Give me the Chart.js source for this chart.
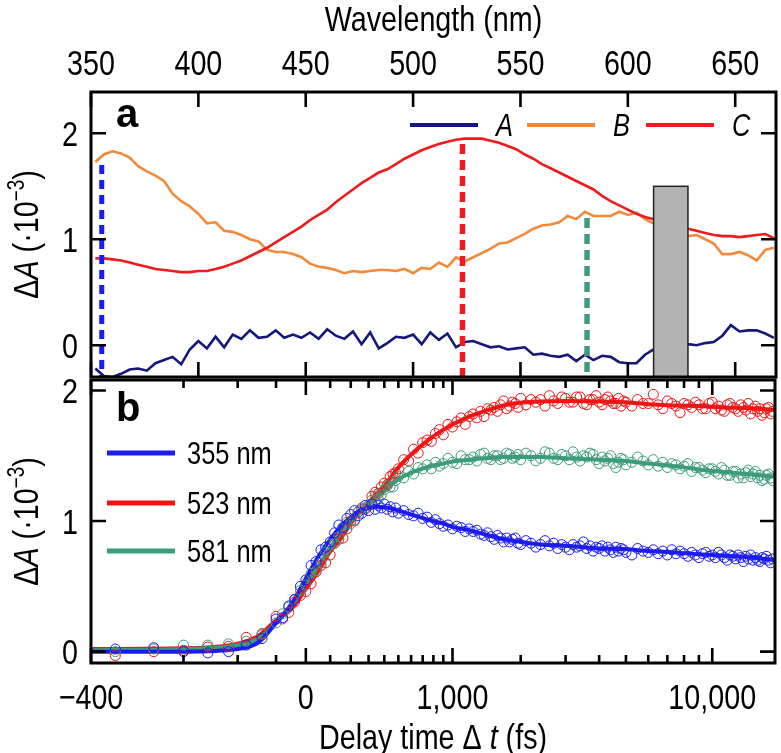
<!DOCTYPE html>
<html>
<head>
<meta charset="utf-8">
<script src="https://cdn.jsdelivr.net/npm/chart.js@4"></script>
<style>
  body { margin: 0; background: #fff; }
  #wrap { position: relative; width: 781px; height: 753px; }
  canvas { position: absolute; left: 0; }
  #panelA { top: 0; }
  #panelB { top: 370px; }
</style>
</head>
<body>
<div id="wrap">
  <canvas id="panelA" width="781" height="380"></canvas>
  <canvas id="panelB" width="781" height="383"></canvas>
</div>
<script>
// ---- panel a: transient spectra ----
const wavelength = [352, 356, 360, 364, 368, 372, 376, 380, 384, 388,
  392, 396, 400, 404, 408, 412, 416, 420, 424, 428,
  432, 436, 440, 444, 448, 452, 456, 460, 464, 468,
  472, 476, 480, 484, 488, 492, 496, 500, 504, 508,
  512, 516, 520, 524, 528, 532, 536, 540, 544, 548,
  552, 556, 560, 564, 568, 572, 576, 580, 584, 588,
  592, 596, 600, 604, 608, 612, 616, 620, 624, 628,
  632, 636, 640, 644, 648, 652, 656, 660, 664, 668];
const specA = [-0.22, -0.29, -0.30, -0.27, -0.23, -0.22, -0.24, -0.17, -0.14, -0.11,
  -0.18, -0.04, 0.04, -0.03, 0.08, -0.02, 0.10, 0.06, 0.14, 0.07,
  0.08, 0.14, 0.07, 0.10, 0.07, 0.12, 0.06, 0.15, 0.09, 0.06,
  0.13, 0.01, 0.12, -0.03, 0.02, 0.08, 0.07, 0.10, 0.01, 0.12,
  0.05, 0.11, -0.02, 0.03, 0.04, 0.01, -0.02, -0.01, -0.04, -0.03,
  -0.02, -0.09, -0.08, -0.10, -0.11, -0.09, -0.15, -0.09, -0.14, -0.10,
  -0.11, -0.16, -0.17, -0.17, -0.09, -0.04, 0.00, 0.01, 0.00, 0.01,
  0.00, 0.02, 0.03, 0.09, 0.19, 0.13, 0.14, 0.14, 0.11, 0.07];
const specB = [1.73, 1.80, 1.83, 1.81, 1.77, 1.69, 1.64, 1.60, 1.55, 1.43,
  1.36, 1.31, 1.24, 1.15, 1.16, 1.08, 1.07, 1.04, 1.00, 0.98,
  0.90, 0.88, 0.88, 0.86, 0.83, 0.77, 0.74, 0.73, 0.71, 0.68,
  0.70, 0.69, 0.70, 0.71, 0.71, 0.70, 0.72, 0.68, 0.73, 0.72,
  0.78, 0.74, 0.83, 0.79, 0.83, 0.87, 0.91, 0.96, 0.97, 1.01,
  1.05, 1.10, 1.13, 1.14, 1.16, 1.22, 1.19, 1.26, 1.22, 1.22,
  1.22, 1.26, 1.23, 1.25, 1.19, 1.15, 1.10, 1.08, 1.05, 1.03,
  1.04, 1.00, 0.96, 0.86, 0.86, 0.88, 0.85, 0.80, 0.90, 0.92];
const specC = [0.82, 0.82, 0.81, 0.80, 0.78, 0.76, 0.74, 0.72, 0.71, 0.70,
  0.69, 0.69, 0.70, 0.70, 0.72, 0.74, 0.77, 0.80, 0.84, 0.88,
  0.92, 0.97, 1.02, 1.07, 1.12, 1.18, 1.23, 1.28, 1.35, 1.41,
  1.47, 1.53, 1.58, 1.63, 1.66, 1.71, 1.76, 1.80, 1.84, 1.87,
  1.90, 1.92, 1.94, 1.95, 1.95, 1.95, 1.93, 1.91, 1.88, 1.85,
  1.80, 1.76, 1.71, 1.67, 1.63, 1.59, 1.55, 1.51, 1.47, 1.41,
  1.36, 1.32, 1.28, 1.24, 1.21, 1.19, 1.16, 1.13, 1.11, 1.10,
  1.08, 1.06, 1.04, 1.03, 1.03, 1.02, 1.03, 1.04, 1.05, 1.01];
const probeWavelengths = [355, 523, 581];
const probeTops = [1.70, 1.90, 1.20];
const pumpBand = [612, 628];
const pumpBandTop = 1.5;
const wlTicks = [350, 400, 450, 500, 550, 600, 650];
const dATicksA = [0, 1, 2];

// ---- panel b: kinetics ----
const delay = [-380, -340, -300, -260, -220, -180, -140, -100, -80, -60,
  -40, -20, 0, 20, 40, 60, 80, 100, 120, 140,
  160, 180, 200, 220, 240, 260, 280, 300, 320, 340,
  360, 380, 400, 420, 440, 460, 480, 500, 540, 580,
  620, 660, 700, 740, 780, 820, 860, 900, 950, 1000,
  1050, 1100, 1150, 1200, 1250, 1300, 1350, 1400, 1450, 1500,
  1550, 1600, 1650, 1700, 1750, 1800, 1850, 1900, 1950, 2000,
  2100, 2200, 2300, 2400, 2500, 2600, 2700, 2800, 2900, 3000,
  3100, 3200, 3300, 3400, 3500, 3600, 3700, 3800, 3900, 4000,
  4100, 4200, 4300, 4400, 4500, 4600, 4700, 4800, 4900, 5000,
  5250, 5500, 5750, 6000, 6250, 6500, 6750, 7000, 7250, 7500,
  7750, 8000, 8250, 8500, 8750, 9000, 9250, 9500, 9750, 10000,
  10250, 10500, 10750, 11000, 11250, 11500, 11750, 12000, 12250, 12500,
  12750, 13000, 13250, 13500, 13750, 14000, 14250, 14500, 14750, 15000,
  15250, 15500, 15750, 16000];
const kin355 = [0.02, 0.03, 0.00, -0.01, 0.00, 0.05, 0.10, 0.25, 0.26, 0.35,
  0.40, 0.50, 0.55, 0.66, 0.69, 0.78, 0.80, 0.84, 0.91, 0.97,
  0.95, 1.02, 1.05, 1.08, 1.04, 1.06, 1.12, 1.08, 1.13, 1.09,
  1.12, 1.10, 1.13, 1.09, 1.11, 1.07, 1.10, 1.06, 1.08, 1.05,
  1.04, 1.06, 1.02, 1.03, 0.99, 1.01, 0.98, 0.96, 0.97, 0.94,
  0.96, 0.95, 0.92, 0.94, 0.92, 0.93, 0.90, 0.89, 0.91, 0.88,
  0.86, 0.89, 0.87, 0.84, 0.87, 0.84, 0.86, 0.87, 0.83, 0.82,
  0.85, 0.83, 0.80, 0.82, 0.85, 0.81, 0.83, 0.79, 0.82, 0.80,
  0.78, 0.82, 0.80, 0.81, 0.84, 0.79, 0.81, 0.77, 0.80, 0.79,
  0.81, 0.77, 0.80, 0.78, 0.76, 0.80, 0.77, 0.79, 0.78, 0.76,
  0.74, 0.79, 0.77, 0.76, 0.78, 0.75, 0.77, 0.74, 0.78, 0.75,
  0.77, 0.75, 0.73, 0.76, 0.74, 0.72, 0.75, 0.76, 0.73, 0.74,
  0.72, 0.76, 0.74, 0.72, 0.70, 0.74, 0.73, 0.71, 0.74, 0.72,
  0.69, 0.73, 0.71, 0.74, 0.70, 0.72, 0.70, 0.69, 0.72, 0.71,
  0.73, 0.70, 0.68, 0.71];
const kin523 = [-0.03, 0.00, 0.01, 0.035, 0.04, 0.11, 0.13, 0.27, 0.25, 0.30,
  0.38, 0.43, 0.46, 0.52, 0.61, 0.66, 0.68, 0.74, 0.83, 0.86,
  0.87, 0.94, 1.00, 1.00, 1.07, 1.10, 1.09, 1.12, 1.19, 1.22,
  1.21, 1.26, 1.29, 1.28, 1.34, 1.36, 1.37, 1.40, 1.47, 1.46,
  1.55, 1.52, 1.60, 1.62, 1.61, 1.67, 1.70, 1.66, 1.74, 1.72,
  1.76, 1.79, 1.74, 1.80, 1.82, 1.79, 1.84, 1.80, 1.86, 1.85,
  1.87, 1.84, 1.89, 1.92, 1.86, 1.88, 1.91, 1.90, 1.87, 1.94,
  1.89, 1.93, 1.91, 1.93, 1.88, 1.96, 1.92, 1.90, 1.95, 1.94,
  1.91, 1.91, 1.95, 1.95, 1.90, 1.89, 1.93, 1.93, 1.96, 1.91,
  1.89, 1.93, 1.95, 1.92, 1.90, 1.90, 1.94, 1.88, 1.92, 1.91,
  1.88, 1.93, 1.90, 1.90, 1.97, 1.89, 1.86, 1.92, 1.90, 1.88,
  1.83, 1.90, 1.89, 1.87, 1.91, 1.89, 1.86, 1.86, 1.90, 1.91,
  1.86, 1.88, 1.85, 1.84, 1.89, 1.90, 1.87, 1.86, 1.84, 1.89,
  1.87, 1.85, 1.90, 1.82, 1.86, 1.88, 1.84, 1.86, 1.81, 1.83,
  1.86, 1.87, 1.82, 1.84];
const kin581 = [0.00, 0.02, 0.05, 0.05, 0.06, 0.08, 0.14, 0.22, 0.29, 0.34,
  0.40, 0.47, 0.51, 0.60, 0.62, 0.68, 0.76, 0.82, 0.83, 0.88,
  0.95, 0.99, 0.98, 1.01, 1.07, 1.09, 1.10, 1.12, 1.16, 1.19,
  1.17, 1.20, 1.24, 1.27, 1.26, 1.26, 1.31, 1.34, 1.33, 1.38,
  1.36, 1.41, 1.40, 1.43, 1.40, 1.45, 1.42, 1.44, 1.48, 1.45,
  1.44, 1.50, 1.47, 1.47, 1.49, 1.46, 1.51, 1.52, 1.48, 1.47,
  1.50, 1.50, 1.47, 1.48, 1.52, 1.51, 1.48, 1.49, 1.51, 1.47,
  1.52, 1.50, 1.46, 1.48, 1.53, 1.52, 1.48, 1.47, 1.51, 1.50,
  1.47, 1.53, 1.49, 1.46, 1.50, 1.49, 1.52, 1.51, 1.47, 1.44,
  1.49, 1.46, 1.48, 1.50, 1.44, 1.41, 1.45, 1.48, 1.47, 1.43,
  1.45, 1.49, 1.46, 1.43, 1.47, 1.42, 1.45, 1.41, 1.44, 1.43,
  1.40, 1.42, 1.44, 1.38, 1.41, 1.41, 1.39, 1.37, 1.40, 1.40,
  1.38, 1.36, 1.41, 1.39, 1.35, 1.35, 1.38, 1.38, 1.33, 1.36,
  1.33, 1.37, 1.39, 1.34, 1.36, 1.38, 1.33, 1.35, 1.31, 1.32,
  1.35, 1.36, 1.33, 1.31];
const fitDelay = [-400, -300, -200, -150, -100, -50, 0, 50, 100, 150,
  200, 250, 300, 350, 400, 450, 500, 600, 750, 900,
  1000, 1200, 1400, 1700, 2000, 2400, 3000, 4000, 5000, 6000,
  7500, 9000, 11000, 13000, 16300];
const fit355 = [0.00, 0.00, 0.02, 0.07, 0.22, 0.37, 0.56, 0.73, 0.86, 0.96,
  1.03, 1.08, 1.10, 1.11, 1.105, 1.095, 1.08, 1.05, 1.01, 0.98,
  0.955, 0.93, 0.90, 0.86, 0.84, 0.82, 0.81, 0.79, 0.785, 0.77,
  0.76, 0.745, 0.735, 0.725, 0.70];
const fit523 = [0.02, 0.025, 0.06, 0.12, 0.24, 0.33, 0.48, 0.62, 0.765, 0.87,
  0.98, 1.07, 1.14, 1.21, 1.27, 1.34, 1.41, 1.51, 1.62, 1.70,
  1.74, 1.80, 1.84, 1.885, 1.905, 1.915, 1.92, 1.915, 1.91, 1.895,
  1.885, 1.88, 1.87, 1.865, 1.85];
const fit581 = [0.01, 0.02, 0.05, 0.10, 0.22, 0.36, 0.52, 0.66, 0.795, 0.91,
  1.00, 1.075, 1.13, 1.18, 1.23, 1.28, 1.32, 1.37, 1.415, 1.44,
  1.455, 1.47, 1.48, 1.49, 1.49, 1.49, 1.48, 1.47, 1.46, 1.44,
  1.42, 1.395, 1.375, 1.36, 1.34];
const delayTicks = [-400, -300, -200, -100, 0, 100, 200, 300, 400, 500, 600, 700, 800, 900,
  1000, 2000, 3000, 4000, 5000, 6000, 7000, 8000, 9000, 10000];
const delayMajor = [-400, 0, 1000, 10000];
const delayLabels = { '-400': '\u2212400', '0': '0', '1000': '1,000', '10000': '10,000' };
const dATicksB = [0, 1, 2];

const FONT = "'Liberation Sans', Arial, Helvetica, sans-serif";
const SQ = 0.82;   // horizontal squeeze, the figure uses a narrow Helvetica
const SZ = 35, SZ_LEG = 31, SZ_SUP = 23;
const TICK_FONT = SZ + 'px ' + FONT;

const NAVY = '#16167c', ORANGE = '#f28a3c', RED = '#ee1c1c';
const BLUE = '#1c1cf2', RED_B = '#f01414', GREEN = '#3c9c7a';

// delay axis: linear near zero, logarithmic at long delays (log of t + 500 fs)
const DELAY_SHIFT = 500;
class ShiftedLogScale extends Chart.Scale {
  determineDataLimits() {
    this.min = this.options.min;
    this.max = this.options.max;
  }
  buildTicks() {
    return delayTicks.map(v => ({ value: v, major: delayMajor.includes(v) }));
  }
  getLabelForValue(v) { return String(v); }
  configure() {
    super.configure();
    this._lo = Math.log10(this.min + DELAY_SHIFT);
    this._hi = Math.log10(this.max + DELAY_SHIFT);
  }
  getPixelForValue(v) {
    return this.getPixelForDecimal((Math.log10(v + DELAY_SHIFT) - this._lo) / (this._hi - this._lo));
  }
  getValueForPixel(p) {
    const d = this.getDecimalForPixel(p);
    return Math.pow(10, this._lo + d * (this._hi - this._lo)) - DELAY_SHIFT;
  }
}
ShiftedLogScale.id = 'shiftedLog';
ShiftedLogScale.defaults = {};
Chart.register(ShiftedLogScale);

function pts(xs, ys) { return xs.map((x, i) => ({ x: x, y: ys[i] })); }

function fixSize(prop, val) {
  return function (s) {
    s[prop] = val;
    s.paddingLeft = s.paddingRight = s.paddingTop = s.paddingBottom = 0;
  };
}

function squeezed(ctx, text, x, y, font, align) {
  ctx.save();
  ctx.font = font;
  ctx.textAlign = align;
  ctx.textBaseline = 'alphabetic';
  ctx.fillStyle = '#000';
  ctx.translate(x, y);
  ctx.scale(SQ, 1);
  ctx.fillText(text, 0, 0);
  ctx.restore();
}

// text made of pieces with different fonts, centred on x, baseline y
function richText(ctx, pieces, x, y, rot) {
  ctx.save();
  ctx.translate(x, y);
  if (rot) ctx.rotate(rot);
  ctx.scale(SQ, 1);
  ctx.textAlign = 'left';
  ctx.textBaseline = 'alphabetic';
  ctx.fillStyle = '#000';
  let w = 0;
  pieces.forEach(p => { ctx.font = p.font; w += ctx.measureText(p.text).width; });
  let cx = -w / 2;
  pieces.forEach(p => {
    ctx.font = p.font;
    ctx.fillText(p.text, cx, p.dy || 0);
    cx += ctx.measureText(p.text).width;
  });
  ctx.restore();
}

const yTitle = [
  { text: '\u0394', font: SZ + 'px ' + FONT },
  { text: 'A', font: 'italic ' + SZ + 'px ' + FONT },
  { text: ' (\u00b710', font: SZ + 'px ' + FONT },
  { text: '\u22123', font: SZ_SUP + 'px ' + FONT, dy: -14 },
  { text: ')', font: SZ + 'px ' + FONT }
];

// box, inward ticks on all four sides, tick labels
const frame = {
  id: 'frame',
  afterDraw(chart, args, opts) {
    const { ctx, chartArea: a } = chart;
    const xs = chart.scales.x, ys = chart.scales.y;
    ctx.save();
    ctx.strokeStyle = '#000';
    ctx.lineWidth = 2.6;
    ctx.beginPath();
    xs.ticks.forEach(t => {
      const px = xs.getPixelForValue(t.value);
      const len = opts.major && !opts.major.includes(t.value) ? 8 : 15;
      ctx.moveTo(px, a.top); ctx.lineTo(px, a.top + len);
      ctx.moveTo(px, a.bottom); ctx.lineTo(px, a.bottom - len);
    });
    ys.ticks.forEach(t => {
      const py = ys.getPixelForValue(t.value);
      ctx.moveTo(a.left, py); ctx.lineTo(a.left + 15, py);
      ctx.moveTo(a.right, py); ctx.lineTo(a.right - 15, py);
    });
    ctx.stroke();
    ctx.lineWidth = 3;
    ctx.strokeRect(a.left, a.top, a.right - a.left, a.bottom - a.top);
    ctx.restore();
    xs.ticks.forEach(t => {
      const lab = opts.xLabel(t.value);
      if (lab) squeezed(ctx, lab, xs.getPixelForValue(t.value), opts.xLabelBase, TICK_FONT, 'center');
    });
    ys.ticks.forEach(t => {
      squeezed(ctx, String(t.value), a.left - 13, ys.getPixelForValue(t.value) + 12.5, TICK_FONT, 'right');
    });
  }
};

const panelAExtras = {
  id: 'panelAExtras',
  afterDatasetsDraw(chart) {
    const { ctx, chartArea: a } = chart;
    const xs = chart.scales.x, ys = chart.scales.y;
    const x0 = xs.getPixelForValue(pumpBand[0]), x1 = xs.getPixelForValue(pumpBand[1]);
    const yt = ys.getPixelForValue(pumpBandTop);
    ctx.save();
    ctx.fillStyle = '#b3b3b3';
    ctx.fillRect(x0, yt, x1 - x0, a.bottom - yt);
    ctx.strokeStyle = '#222';
    ctx.lineWidth = 1.5;
    ctx.strokeRect(x0, yt, x1 - x0, a.bottom - yt);
    ctx.restore();
  },
  afterDraw(chart) {
    const { ctx, chartArea: a } = chart;
    ctx.save();
    ctx.fillStyle = '#000';
    ctx.font = 'bold 40px ' + FONT;
    ctx.textBaseline = 'alphabetic';
    ctx.fillText('a', 116, 127);
    // legend
    const items = [['A', NAVY, 410], ['B', ORANGE, 527], ['C', RED, 646]];
    ctx.lineWidth = 4;
    items.forEach(([lab, col, x]) => {
      ctx.strokeStyle = col;
      ctx.beginPath(); ctx.moveTo(x, 125); ctx.lineTo(x + 68, 125); ctx.stroke();
      squeezed(ctx, lab, x + 86, 136, 'italic ' + SZ_LEG + 'px ' + FONT, 'left');
    });
    ctx.restore();
    richText(ctx, [{ text: 'Wavelength (nm)', font: SZ + 'px ' + FONT }], (a.left + a.right) / 2, 31);
    richText(ctx, yTitle, 38, (a.top + a.bottom) / 2, -Math.PI / 2);
  }
};

const panelBExtras = {
  id: 'panelBExtras',
  afterDraw(chart) {
    const { ctx, chartArea: a } = chart;
    ctx.save();
    ctx.fillStyle = '#000';
    ctx.font = 'bold 40px ' + FONT;
    ctx.textBaseline = 'alphabetic';
    ctx.fillText('b', 116, 51);
    const items = [['355 nm', BLUE, 83], ['523 nm', RED_B, 133], ['581 nm', GREEN, 181]];
    ctx.lineWidth = 5;
    items.forEach(([lab, col, y]) => {
      ctx.strokeStyle = col;
      ctx.beginPath(); ctx.moveTo(107, y); ctx.lineTo(175, y); ctx.stroke();
      squeezed(ctx, lab, 187, y + 11, SZ_LEG + 'px ' + FONT, 'left');
    });
    ctx.restore();
    richText(ctx, [
      { text: 'Delay time \u0394 ', font: SZ + 'px ' + FONT },
      { text: 't', font: 'italic ' + SZ + 'px ' + FONT },
      { text: ' (fs)', font: SZ + 'px ' + FONT }
    ], (a.left + a.right) / 2, 379);
    richText(ctx, yTitle, 38, (a.top + a.bottom) / 2, -Math.PI / 2);
  }
};

const hiddenTicks = { display: false };

new Chart(document.getElementById('panelA'), {
  type: 'line',
  data: {
    datasets: [
      { data: pts([probeWavelengths[0], probeWavelengths[0]], [probeTops[0], -0.30]), borderColor: '#1a1aff', borderWidth: 5, borderDash: [9, 6], pointRadius: 0 },
      { data: pts([probeWavelengths[1], probeWavelengths[1]], [probeTops[1], -0.30]), borderColor: RED, borderWidth: 5.5, borderDash: [10, 6], pointRadius: 0 },
      { data: pts([probeWavelengths[2], probeWavelengths[2]], [probeTops[2], -0.30]), borderColor: GREEN, borderWidth: 5.5, borderDash: [10, 6], pointRadius: 0 },
      { label: 'A', data: pts(wavelength, specA), borderColor: NAVY, borderWidth: 2.6, pointRadius: 0 },
      { label: 'C', data: pts(wavelength, specC), borderColor: RED, borderWidth: 2.6, pointRadius: 0 },
      { label: 'B', data: pts(wavelength, specB), borderColor: ORANGE, borderWidth: 2.6, pointRadius: 0 }
    ]
  },
  options: {
    responsive: false, animation: false, devicePixelRatio: 1,
    layout: { padding: { left: 0, right: 5, top: 0, bottom: 3 } },
    scales: {
      x: {
        type: 'linear', position: 'top', min: 350, max: 669,
        afterFit: fixSize('height', 92),
        afterBuildTicks(s) { s.ticks = wlTicks.map(v => ({ value: v })); },
        grid: { display: false, drawTicks: false }, border: { display: false },
        ticks: hiddenTicks
      },
      y: {
        type: 'linear', min: -0.30, max: 2.39,
        afterFit: fixSize('width', 91),
        afterBuildTicks(s) { s.ticks = dATicksA.map(v => ({ value: v })); },
        grid: { display: false, drawTicks: false }, border: { display: false },
        ticks: hiddenTicks
      }
    },
    plugins: {
      legend: { display: false }, tooltip: { enabled: false },
      frame: { xLabel: v => String(v), xLabelBase: 75 }
    }
  },
  plugins: [panelAExtras, frame]
});

new Chart(document.getElementById('panelB'), {
  type: 'line',
  data: {
    datasets: [
      { data: pts(delay, kin355), showLine: false, pointRadius: 5, pointBorderWidth: 1, pointBorderColor: BLUE, pointBackgroundColor: 'rgba(0,0,0,0)' },
      { data: pts(delay, kin581), showLine: false, pointRadius: 5, pointBorderWidth: 1, pointBorderColor: GREEN, pointBackgroundColor: 'rgba(0,0,0,0)' },
      { data: pts(delay, kin523), showLine: false, pointRadius: 5, pointBorderWidth: 1, pointBorderColor: RED_B, pointBackgroundColor: 'rgba(0,0,0,0)' },
      { label: '355 nm', data: pts(fitDelay, fit355), borderColor: BLUE, borderWidth: 4, pointRadius: 0, cubicInterpolationMode: 'monotone' },
      { label: '581 nm', data: pts(fitDelay, fit581), borderColor: GREEN, borderWidth: 4, pointRadius: 0, cubicInterpolationMode: 'monotone' },
      { label: '523 nm', data: pts(fitDelay, fit523), borderColor: RED_B, borderWidth: 4, pointRadius: 0, cubicInterpolationMode: 'monotone' }
    ]
  },
  options: {
    responsive: false, animation: false, devicePixelRatio: 1,
    layout: { padding: { left: 0, right: 5, top: 10, bottom: 0 } },
    scales: {
      x: {
        type: 'shiftedLog', position: 'bottom', min: -400, max: 16300,
        afterFit: fixSize('height', 90),
        grid: { display: false, drawTicks: false }, border: { display: false },
        ticks: { display: false, autoSkip: false }
      },
      y: {
        type: 'linear', min: -0.087, max: 2.08,
        afterFit: fixSize('width', 91),
        afterBuildTicks(s) { s.ticks = dATicksB.map(v => ({ value: v })); },
        grid: { display: false, drawTicks: false }, border: { display: false },
        ticks: hiddenTicks
      }
    },
    plugins: {
      legend: { display: false }, tooltip: { enabled: false },
      frame: { major: delayMajor, xLabel: v => delayLabels[String(v)] || '', xLabelBase: 339 }
    }
  },
  plugins: [panelBExtras, frame]
});
</script>
</body>
</html>
